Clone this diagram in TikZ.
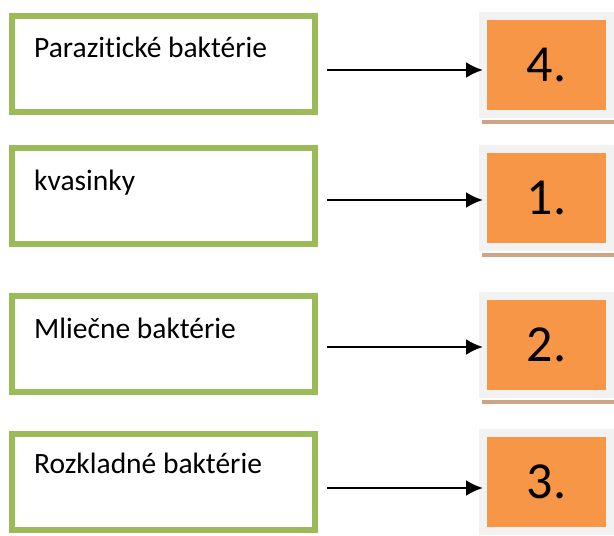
\documentclass[tikz,border=0pt]{standalone}
\usepackage{fontspec}
\setmainfont{Carlito}[Ligatures=NoCommon]
\usetikzlibrary{arrows.meta}

\definecolor{olivegreen}{HTML}{9BBB59}
\definecolor{boxorange}{HTML}{F79646}
\definecolor{framegray}{HTML}{F2F2F2}
\definecolor{shadowbrown}{HTML}{CFA383}

\tikzset{
    namebox/.style={draw=olivegreen, line width=6pt, fill=white, outer sep=0pt,
        minimum width=303pt, minimum height=96pt, inner sep=0pt},
    nametext/.style={anchor=base west, inner sep=0pt, font=\fontsize{29.5}{34}\selectfont},
    numbox/.style={draw=framegray, line width=8pt, fill=boxorange, outer sep=0pt,
        minimum width=127pt, minimum height=98pt, inner sep=0pt,
        font=\fontsize{52}{58}\selectfont},
    pointer/.style={->, line width=2.5pt}
}

\begin{document}
\begin{tikzpicture}[x=1pt, y=-1pt, >={Latex[length=17pt,width=16pt]}]

    \useasboundingbox (0,0) rectangle (614,536);

    % 1. Zelené rámčeky s názvami
    \node[namebox] (b1) at (163.5, 64) {};
    \node[namebox] (b2) at (163.5, 196) {};
    \node[namebox] (b3) at (163.5, 344) {};
    \node[namebox] (b4) at (163.5, 481.5) {};

    \node[nametext] (t1) at ([xshift=22pt, yshift=-41pt]b1.north west) {Parazitické baktérie};
    \node[nametext] (t2) at ([xshift=22pt, yshift=-42pt]b2.north west) {kvasinky};
    \node[nametext] (t3) at ([xshift=22pt, yshift=-42pt]b3.north west) {Mliečne baktérie};
    \node[nametext] (t4) at ([xshift=22pt, yshift=-40pt]b4.north west) {Rozkladné baktérie};

    % 2. Oranžové políčka s číslami (a hnedý tieň pod nimi)
    \node[numbox] (n1) at (546.5, 65) {4.};
    \node[numbox] (n2) at (546.5, 198) {1.};
    \node[numbox] (n3) at (546.5, 345) {2.};
    \node[numbox] (n4) at (546.5, 482) {3.};

    \fill[shadowbrown] ([xshift=-1pt, yshift=-6pt]n1.south west) rectangle ([xshift=4pt, yshift=-10pt]n1.south east);
    \fill[shadowbrown] ([xshift=-1pt, yshift=-6pt]n2.south west) rectangle ([xshift=4pt, yshift=-10pt]n2.south east);
    \fill[shadowbrown] ([xshift=-1pt, yshift=-6pt]n3.south west) rectangle ([xshift=4pt, yshift=-10pt]n3.south east);

    % 3. Šípky
    \draw[pointer] ([xshift=12pt, yshift=-6pt]b1.east) -- ([yshift=-6pt]b1.east -| n1.west);
    \draw[pointer] ([xshift=12pt, yshift=-4pt]b2.east) -- ([yshift=-4pt]b2.east -| n2.west);
    \draw[pointer] ([xshift=12pt, yshift=-3pt]b3.east) -- ([yshift=-3pt]b3.east -| n3.west);
    \draw[pointer] ([xshift=12pt, yshift=-6.5pt]b4.east) -- ([yshift=-6.5pt]b4.east -| n4.west);

\end{tikzpicture}
\end{document}
